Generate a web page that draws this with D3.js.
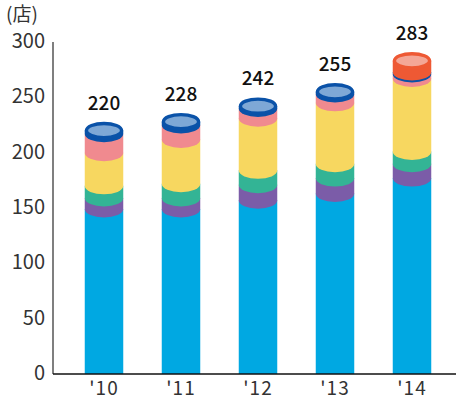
<!DOCTYPE html>
<html><head><meta charset="utf-8">
<script src="https://cdn.jsdelivr.net/npm/d3@7"></script>
<style>
html,body{margin:0;padding:0;background:#fff;}
svg{display:block;font-family:"Noto Sans CJK JP","Noto Sans",sans-serif;}
</style></head>
<body>
<svg id="chart" width="456" height="401"></svg>
<script>
const years = ["'10","'11","'12","'13","'14"];
const totals = [220,228,242,255,283];
const yTicks = [0,50,100,150,200,250,300];
const unitLabel = "(店)";
// stacked segments, bottom to top
const segCyan   = [149,149,157,163,177];
const segPurple = [10,10,14,14,13];
const segGreen  = [11,13,13,13,11];
const segYellow = [30,40,47,55,66];
const segPink   = [17,13,9,8,4];
const segNavy   = [3,3,2,2,2];
const segOrange = [0,0,0,0,10];

const series = [
  {values: segCyan,   color:"#00a8e2"},
  {values: segPurple, color:"#7b5ca8"},
  {values: segGreen,  color:"#33b495"},
  {values: segYellow, color:"#f7d760"},
  {values: segPink,   color:"#f08a8f"},
  {values: segNavy,   color:"#0a52a8", face:"#7ea8d6"},
  {values: segOrange, color:"#ee5934", face:"#f4a797"}
];

const svg = d3.select("#chart");
const x = d3.scaleBand().domain(years).range([65.5,450.5]).paddingInner(0.5).paddingOuter(0.25);
const y = d3.scaleLinear().domain([0,300]).range([374,42]);
const ry = 8.5;

years.forEach((yr,i)=>{
  const x0 = x(yr), w = x.bandwidth(), x1 = x0 + w, rx = w/2;
  let base = 0;
  let top = null;
  series.forEach((s,si)=>{
    const v = s.values[i];
    if(!v) return;
    const y0 = base, y1 = base + v;
    let dStr;
    if(si===0){
      dStr = `M${x0},${y(y1)}L${x1},${y(y1)}L${x1},${y(y0)}L${x0},${y(y0)}Z`;
    } else {
      dStr = `M${x0},${y(y1)}L${x1},${y(y1)}L${x1},${y(y0)}A${rx},${ry} 0 0 1 ${x0},${y(y0)}Z`;
    }
    svg.append("path").attr("d", dStr).attr("fill", s.color);
    base = y1;
    top = s;
  });
  // top face
  svg.append("ellipse")
    .attr("cx", x0 + rx).attr("cy", y(base))
    .attr("rx", rx - 1.7).attr("ry", ry - 1.4)
    .attr("fill", top.face || top.color)
    .attr("stroke", top.color).attr("stroke-width", 3.4);
  // total label
  svg.append("text")
    .attr("x", x0 + rx).attr("y", y(totals[i]) - 21)
    .attr("text-anchor","middle")
    .attr("font-size", 19).attr("font-weight", 500).attr("fill","#111")
    .text(totals[i]);
});

// axes
svg.append("line").attr("x1",53).attr("x2",53).attr("y1",y(300)).attr("y2",y(0))
  .attr("stroke","#555").attr("stroke-width",1.5);
svg.append("line").attr("x1",53).attr("x2",456).attr("y1",y(0)).attr("y2",y(0))
  .attr("stroke","#111").attr("stroke-width",1.5);

svg.selectAll(".yt").data(yTicks).enter().append("text")
  .attr("x",45).attr("y",d=>y(d)+6)
  .attr("text-anchor","end").attr("font-size",20).attr("fill","#333")
  .text(d=>d);

svg.selectAll(".xt").data(years).enter().append("text")
  .attr("x",d=>x(d)+x.bandwidth()/2).attr("y",395)
  .attr("text-anchor","middle").attr("font-size",19).attr("fill","#333")
  .attr("letter-spacing",1)
  .text(d=>d);

svg.append("text").attr("x",6).attr("y",21).attr("font-size",19).attr("fill","#333").text(unitLabel);
</script>
</body></html>
